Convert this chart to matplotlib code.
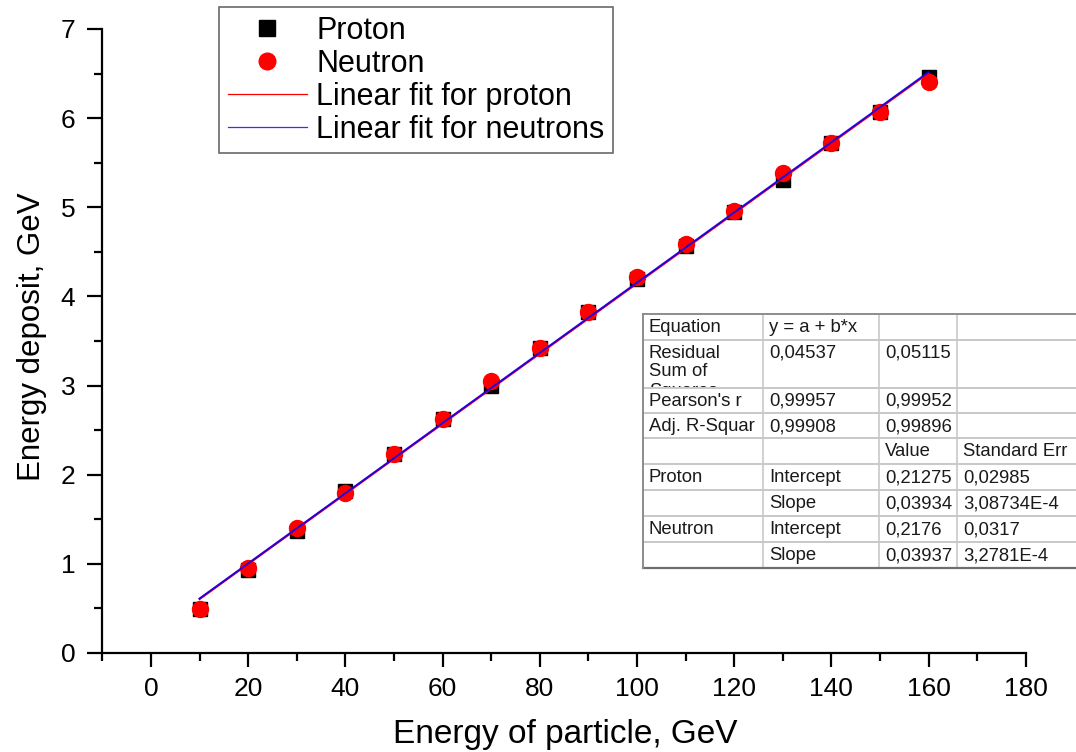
import matplotlib
matplotlib.use("Agg")
import matplotlib.pyplot as plt
from matplotlib.ticker import MultipleLocator
from matplotlib.transforms import Affine2D
from matplotlib.patches import Rectangle
from matplotlib.lines import Line2D

plt.rcParams['font.family'] = ['Liberation Sans', 'DejaVu Sans']

# ---------------- data ----------------
energy = [10, 20, 30, 40, 50, 60, 70, 80, 90, 100, 110, 120, 130, 140, 150, 160]
proton = [0.49, 0.93, 1.37, 1.82, 2.23, 2.63, 3.00, 3.42, 3.82, 4.20, 4.57, 4.95, 5.31, 5.72, 6.07, 6.46]
neutron = [0.49, 0.95, 1.40, 1.80, 2.23, 2.63, 3.05, 3.42, 3.82, 4.22, 4.59, 4.96, 5.39, 5.72, 6.07, 6.41]

proton_intercept, proton_slope = 0.21275, 0.03934
neutron_intercept, neutron_slope = 0.2176, 0.03937

legend_labels = ["Proton", "Neutron", "Linear fit for proton", "Linear fit for neutrons"]
x_label = "Energy of particle, GeV"
y_label = "Energy deposit, GeV"

table_rows = [
    ["Equation", "y = a + b*x", "", ""],
    ["Residual\nSum of\nSquares", "0,04537", "0,05115", ""],
    ["Pearson's r", "0,99957", "0,99952", ""],
    ["Adj. R-Squar", "0,99908", "0,99896", ""],
    ["", "", "Value", "Standard Err"],
    ["Proton", "Intercept", "0,21275", "0,02985"],
    ["", "Slope", "0,03934", "3,08734E-4"],
    ["Neutron", "Intercept", "0,2176", "0,0317"],
    ["", "Slope", "0,03937", "3,2781E-4"],
]

# ---------------- figure ----------------
W, H = 1076, 752
fig = plt.figure(figsize=(W / 100, H / 100), dpi=100)
ax = fig.add_axes([102.4 / W, (H - 653) / H, (1025.7 - 102.4) / W, (653 - 29) / H])

xfit = [energy[0], energy[-1]]
ax.plot(energy, proton, linestyle='none', marker='s', markersize=10.5,
        color='black', zorder=3, label=legend_labels[0])
ax.plot(energy, neutron, linestyle='none', marker='o', markersize=11.5,
        color='#ff0000', zorder=4, label=legend_labels[1])
ax.plot(xfit, [proton_intercept + proton_slope * x for x in xfit],
        color='#ff0000', lw=1.6, zorder=5, label=legend_labels[2])
ax.plot(xfit, [neutron_intercept + neutron_slope * x for x in xfit],
        color='#0000ff', lw=1.4, alpha=0.85, zorder=6, label=legend_labels[3])

ax.set_xlim(-10, 180)
ax.set_ylim(0, 7)
ax.spines['top'].set_visible(False)
ax.spines['right'].set_visible(False)
for s in ('left', 'bottom'):
    ax.spines[s].set_linewidth(1.6)
ax.xaxis.set_major_locator(MultipleLocator(20))
ax.xaxis.set_minor_locator(MultipleLocator(10))
ax.yaxis.set_major_locator(MultipleLocator(1))
ax.yaxis.set_minor_locator(MultipleLocator(0.5))
ax.tick_params(which='major', direction='out', length=10, width=1.6, labelsize=19, pad=7)
ax.tick_params(which='minor', direction='out', length=5.5, width=1.6)
ax.tick_params(axis='y', which='major', length=10.5, pad=9)
ax.set_xticks(range(0, 181, 20))

fig.text(565 / W, 1 - 735 / H, x_label, fontsize=24, ha='center', va='center')
fig.text(32 / W, 1 - 337 / H, y_label, fontsize=22.5, ha='center', va='center', rotation=90)

# legend
h = [Line2D([], [], ls='none', marker='s', color='black', markersize=11),
     Line2D([], [], ls='none', marker='o', color='#ff0000', markersize=12),
     Line2D([], [], color='#ff0000', lw=0.9),
     Line2D([], [], color='#3030ff', lw=0.9)]
leg = fig.legend(h, legend_labels, loc='upper left',
                 bbox_to_anchor=(219 / W, 1 - 7 / H), fontsize=22,
                 frameon=True, fancybox=False, edgecolor='#444444',
                 handlelength=2.6, handletextpad=0.3, labelspacing=0.1,
                 borderpad=0.28, borderaxespad=0)
leg.get_frame().set_linewidth(1.2)

# ---------------- table (pixel coordinates) ----------------
pix = Affine2D().scale(1 / W, -1 / H).translate(0, 1) + fig.transFigure
col_x = [643, 763, 879, 957, 1090]
row_y = [314, 340, 388, 413, 438, 464, 490, 516, 542, 568]
fig.patches.append(Rectangle((col_x[0], row_y[0]), col_x[-1] - col_x[0],
                             row_y[-1] - row_y[0], transform=pix,
                             facecolor='white', edgecolor='none', zorder=5))
for y in row_y[1:-1]:
    fig.lines.append(Line2D([col_x[0], col_x[-1]], [y, y], transform=pix,
                            color='#c8c8c8', lw=1.4, zorder=6))
for x in col_x[1:-1]:
    fig.lines.append(Line2D([x, x], [row_y[0], row_y[-1]], transform=pix,
                            color='#c8c8c8', lw=1.2, zorder=6))
fig.lines.append(Line2D([col_x[0], col_x[-1]], [row_y[0], row_y[0]], transform=pix,
                        color='#8c8c8c', lw=1.4, zorder=7))
fig.lines.append(Line2D([col_x[0], col_x[-1]], [row_y[-1], row_y[-1]], transform=pix,
                        color='#6e6e6e', lw=1.6, zorder=7))
fig.lines.append(Line2D([col_x[0], col_x[0]], [row_y[0], row_y[-1]], transform=pix,
                        color='#8c8c8c', lw=1.4, zorder=7))

for r, row in enumerate(table_rows):
    for c, txt in enumerate(row):
        if not txt:
            continue
        x0 = col_x[c] + 6
        if r == 1:
            lines = txt.split('\n')
            for k, line in enumerate(lines):
                t = fig.text(x0, row_y[r] + 13 + 19 * k, line, transform=pix,
                             fontsize=13.3, color='#1a1a1a', ha='left',
                             va='center', zorder=8)
                clip = Rectangle((col_x[c], row_y[r]), col_x[c + 1] - col_x[c],
                                 row_y[r + 1] - row_y[r] - 1, transform=pix)
                t.set_clip_path(clip)
        else:
            yc = (row_y[r] + row_y[r + 1]) / 2 + 1
            fig.text(x0, yc, txt, transform=pix, fontsize=13.3, color='#1a1a1a',
                     ha='left', va='center', zorder=8)

fig.savefig("out.png", dpi=100)
